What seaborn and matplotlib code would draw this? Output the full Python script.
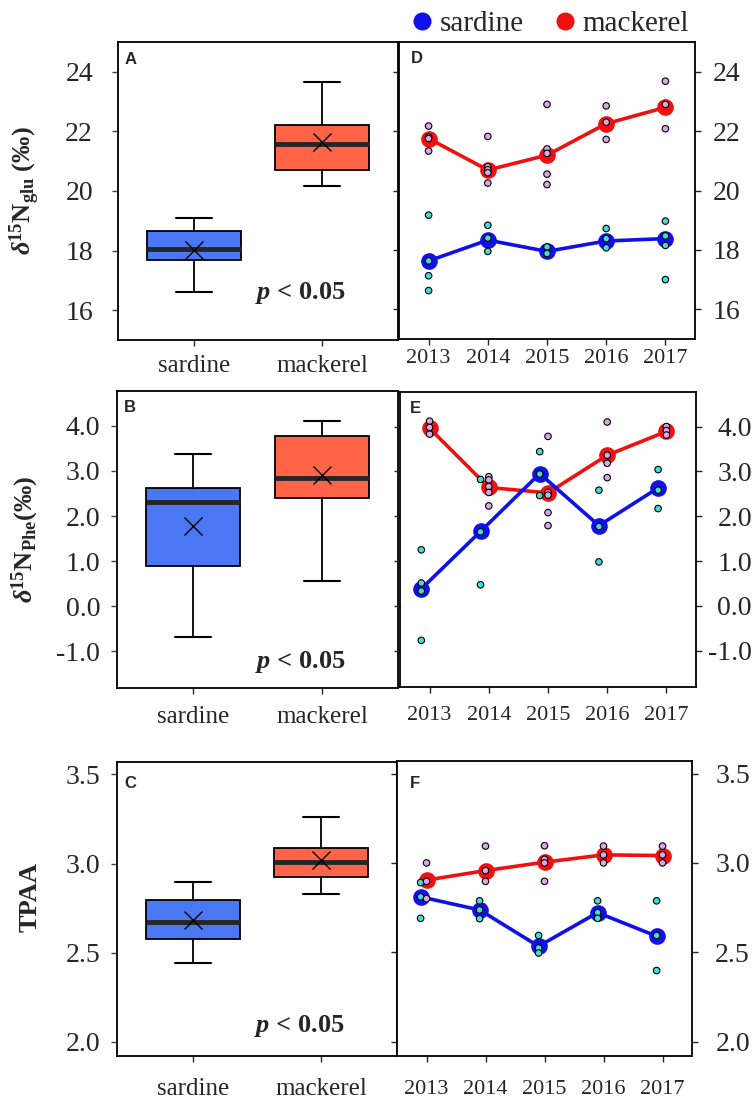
import numpy as np
import pandas as pd
import matplotlib
matplotlib.use('Agg')
import matplotlib.pyplot as plt
import seaborn as sns
from matplotlib.lines import Line2D

sns.set_style('ticks')
plt.rcParams['font.family'] = ['Liberation Serif', 'DejaVu Serif']
plt.rcParams['mathtext.fontset'] = 'custom'
plt.rcParams['mathtext.rm'] = 'Liberation Serif'
plt.rcParams['mathtext.it'] = 'Liberation Serif:italic'
plt.rcParams['mathtext.bf'] = 'Liberation Serif:bold'
plt.rcParams['mathtext.bfit'] = 'Liberation Serif:italic:bold'
plt.rcParams['axes.unicode_minus'] = False

years = [2013, 2014, 2015, 2016, 2017]
species = ['sardine', 'mackerel']

# d15N glu (A, D)  box = whislo, q1, med, q3, whishi
glu_box_sardine = [16.61, 17.67, 18.05, 18.67, 19.08]
glu_box_mackerel = [20.16, 20.70, 21.58, 22.23, 23.67]
glu_box_mean = [18.02, 21.63]
glu_year_sardine = [17.63, 18.33, 17.95, 18.30, 18.38]
glu_year_mackerel = [21.75, 20.69, 21.19, 22.25, 22.80]
glu_pts_sardine = [[19.17, 17.63, 17.13, 16.63], [18.83, 18.40, 17.95], [18.10, 17.88],
                   [18.72, 18.38, 18.07], [18.97, 18.47, 18.15, 17.00]]
glu_pts_mackerel = [[22.17, 21.80, 21.75, 21.33], [21.82, 20.80, 20.70, 20.60, 20.25],
                    [22.90, 21.40, 21.25, 20.55, 20.20], [22.85, 22.30, 21.72], [23.68, 22.90, 22.08]]

# d15N phe (B, E)
phe_box_sardine = [-0.67, 0.89, 2.30, 2.62, 3.37]
phe_box_mackerel = [0.56, 2.41, 2.85, 3.77, 4.10]
phe_box_mean = [1.79, 2.91]
phe_year_sardine = [0.38, 1.66, 2.95, 1.79, 2.63]
phe_year_mackerel = [3.96, 2.64, 2.52, 3.36, 3.89]
phe_pts_sardine = [[1.25, 0.51, 0.33, -0.77], [2.82, 1.65, 0.47], [3.44, 2.94, 2.46],
                   [2.58, 1.77, 0.98], [3.04, 2.58, 2.17]]
phe_pts_mackerel = [[4.12, 3.98, 3.83], [2.88, 2.81, 2.66, 2.53, 2.23], [3.78, 2.53, 2.47, 2.08, 1.79],
                    [4.10, 3.36, 3.18, 2.86], [4.00, 3.91, 3.81]]

# TPAA (C, F)
tp_box_sardine = [2.442, 2.575, 2.672, 2.794, 2.897]
tp_box_mackerel = [2.828, 2.927, 3.006, 3.086, 3.262]
tp_box_mean = [2.685, 3.019]
tp_year_sardine = [2.810, 2.737, 2.534, 2.722, 2.590]
tp_year_mackerel = [2.904, 2.957, 3.004, 3.045, 3.041]
tp_pts_sardine = [[2.89, 2.81, 2.69], [2.788, 2.737, 2.688], [2.594, 2.524, 2.496],
                  [2.788, 2.722, 2.69], [2.788, 2.594, 2.398]]
tp_pts_mackerel = [[3.0, 2.897, 2.80], [3.094, 2.957, 2.897], [3.096, 3.02, 3.0, 2.897],
                   [3.094, 3.045, 3.0], [3.094, 3.045, 3.0]]

box_colors = ['#4A78F4', '#FF6446']
line_pal = {'sardine': '#1010E8', 'mackerel': '#F01010'}
dot_pal = {'sardine': '#3EDFD6', 'mackerel': '#DDA6E6'}

W, H = 756, 1099
fig = plt.figure(figsize=(W / 100, H / 100), dpi=100)


def px_axes(l, t, r, b):
    return fig.add_axes([l / W, 1 - b / H, (r - l) / W, (b - t) / H])


def style_spines(ax):
    for s in ax.spines.values():
        s.set_color('black')
        s.set_linewidth(1.3)


def box_panel(ax, box_s, box_m, means, ylim, ticks, fmt, ylabel, letter,
              ypad, xpad, ptext_y, letter_y, label_y):
    stats = []
    for name, b, mu in zip(species, [box_s, box_m], means):
        stats.append(dict(label=name, whislo=b[0], q1=b[1], med=b[2], q3=b[3], whishi=b[4], mean=mu))
    bp = ax.bxp(stats, positions=[0, 1], widths=0.73, capwidths=0.28, patch_artist=True,
                showmeans=True, showfliers=False,
                boxprops=dict(edgecolor='black', linewidth=1.3),
                medianprops=dict(color='#262626', linewidth=3.5),
                whiskerprops=dict(color='black', linewidth=1.3),
                capprops=dict(color='black', linewidth=1.5),
                meanprops=dict(marker='x', markersize=13, markeredgecolor='black', markeredgewidth=1.0))
    for patch, c in zip(bp['boxes'], box_colors):
        patch.set_facecolor(c)
    ax.set_xlim(-0.59, 1.59)
    ax.set_ylim(*ylim)
    ax.set_yticks(ticks)
    ax.set_yticklabels([fmt.format(t) for t in ticks])
    ax.tick_params(axis='y', labelsize=20, length=4, width=1, pad=ypad, color='#444444')
    ax.tick_params(axis='x', labelsize=18, length=4, width=1, pad=xpad)
    ax.set_ylabel(ylabel, fontsize=19, fontweight='bold')
    ax.yaxis.set_label_coords(-0.27, label_y)
    ax.text(0.49, ptext_y, r'$\mathbfit{p}$ < 0.05', transform=ax.transAxes,
            fontsize=19, fontweight='bold', va='baseline', ha='left')
    ax.text(0.025, letter_y, letter, transform=ax.transAxes, fontsize=12,
            fontweight='bold', family='Liberation Sans', va='top', ha='left')
    style_spines(ax)


def trend_panel(ax, yr_s, yr_m, pts_s, pts_m, ylim, ticks, fmt, letter,
                shift, ypad, xpad, letter_x, letter_y):
    mean_rows = []
    for sp, vals in [('sardine', yr_s), ('mackerel', yr_m)]:
        off = shift if sp == 'sardine' else 0.0
        for yr, v in zip(years, vals):
            mean_rows.append((yr + off, v, sp))
    means = pd.DataFrame(mean_rows, columns=['year', 'value', 'species'])

    pt_rows = []
    for sp, pts in [('sardine', pts_s), ('mackerel', pts_m)]:
        off = shift if sp == 'sardine' else 0.0
        for yr, vals in zip(years, pts):
            for v in vals:
                pt_rows.append((yr + off, v, sp))
    pts = pd.DataFrame(pt_rows, columns=['year', 'value', 'species'])

    sns.lineplot(data=means, x='year', y='value', hue='species', hue_order=['mackerel', 'sardine'],
                 palette=line_pal, marker='o', markersize=12, markeredgewidth=0,
                 linewidth=2.6, legend=False, ax=ax)
    sns.scatterplot(data=pts, x='year', y='value', hue='species', hue_order=['mackerel', 'sardine'],
                    palette=dot_pal, s=22, edgecolor='black', linewidth=0.8,
                    legend=False, ax=ax, zorder=3)
    ax.set_xlim(2012.5, 2017.5)
    ax.set_xticks(years)
    ax.set_xticklabels([str(y) for y in years])
    ax.set_ylim(*ylim)
    ax.set_yticks(ticks)
    ax.set_yticklabels([fmt.format(t) for t in ticks])
    ax.tick_params(axis='y', left=True, right=True, labelleft=False, labelright=True,
                   labelsize=20, length=4, width=1, pad=ypad)
    for lab in ax.get_yticklabels():
        lab.set_horizontalalignment('right')
    ax.tick_params(axis='x', labelsize=16, length=4, width=1, pad=xpad)
    ax.set_xlabel('')
    ax.set_ylabel('')
    ax.text(letter_x, letter_y, letter, transform=ax.transAxes, fontsize=12,
            fontweight='bold', family='Liberation Sans', va='top', ha='left')
    style_spines(ax)


axA = px_axes(118, 42, 398, 340)
axD = px_axes(399, 42, 695, 339)
axB = px_axes(117, 391, 398, 688)
axE = px_axes(400, 392, 696, 687)
axC = px_axes(117, 762, 397, 1056)
axF = px_axes(397, 761, 692, 1056)

glu_ticks = [16, 18, 20, 22, 24]
phe_ticks = [-1.0, 0.0, 1.0, 2.0, 3.0, 4.0]
tp_ticks = [2.0, 2.5, 3.0, 3.5]

box_panel(axA, glu_box_sardine, glu_box_mackerel, glu_box_mean, (15.0, 25.0), glu_ticks, '{:.0f}',
          r'$\mathbfit{\delta}^{\mathbf{15}}\mathbf{N}_{\mathbf{glu}}$ (‰)', 'A',
          14, 7, 0.137, 0.965, 0.5)
box_panel(axB, phe_box_sardine, phe_box_mackerel, phe_box_mean, (-1.81, 4.77), phe_ticks, '{:.1f}',
          r'$\mathbfit{\delta}^{\mathbf{15}}\mathbf{N}_{\mathbf{Phe}}$(‰)', 'B',
          8, 9, 0.067, 0.969, 0.5)
box_panel(axC, tp_box_sardine, tp_box_mackerel, tp_box_mean, (1.92, 3.57), tp_ticks, '{:.1f}',
          'TPAA', 'C', 8, 11.5, 0.083, 0.952, 0.54)

trend_panel(axD, glu_year_sardine, glu_year_mackerel, glu_pts_sardine, glu_pts_mackerel,
            (15.0, 25.0), glu_ticks, '{:.0f}', 'D', 0.0, 28.4, 3, 0.04, 0.969)
trend_panel(axE, phe_year_sardine, phe_year_mackerel, phe_pts_sardine, phe_pts_mackerel,
            (-1.81, 4.77), phe_ticks, '{:.1f}', 'E', -0.14, 36.3, 10, 0.034, 0.969)
trend_panel(axF, tp_year_sardine, tp_year_mackerel, tp_pts_sardine, tp_pts_mackerel,
            (1.92, 3.57), tp_ticks, '{:.1f}', 'F', -0.1, 37.7, 13, 0.044, 0.95)

handles = [Line2D([], [], marker='o', ls='', color=line_pal[s], ms=13, mew=0) for s in species]
fig.legend(handles, species, loc='center', bbox_to_anchor=(548 / W, 1 - 24 / H), ncol=2,
           frameon=False, fontsize=21, handletextpad=0.1, columnspacing=0.9,
           handlelength=1.0, borderpad=0)

fig.savefig('out.png', dpi=100)
